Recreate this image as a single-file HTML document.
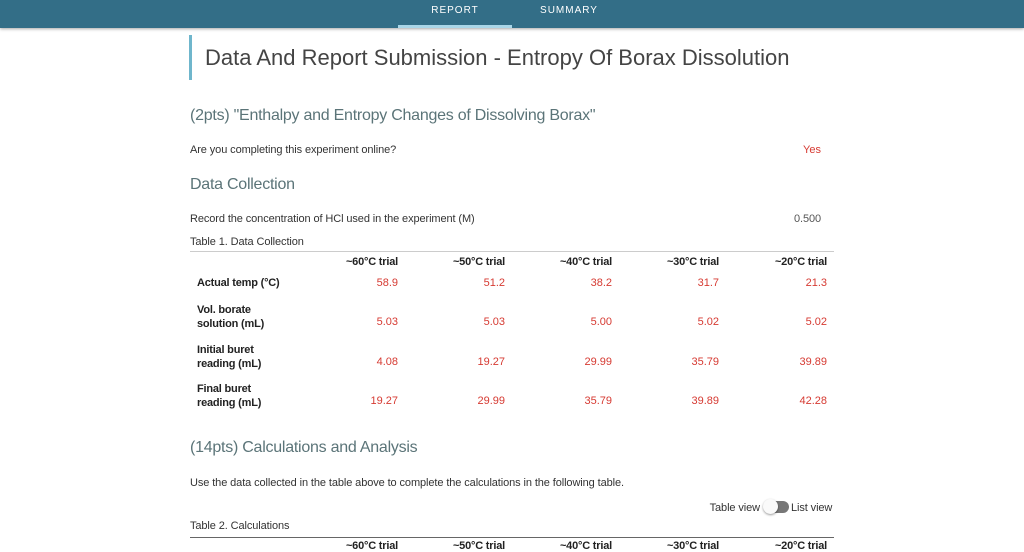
<!DOCTYPE html>
<html><head><meta charset="utf-8"><style>
body{margin:0;width:1024px;height:543px;overflow:hidden;background:#fff;font-family:"Liberation Sans",sans-serif;position:relative;}
.a{position:absolute;white-space:nowrap;line-height:1;}
.s{font-size:11px;color:#333;letter-spacing:-0.1px;}
.h{font-size:16px;color:#5b7478;letter-spacing:-0.25px;}
.r{color:#d63a32;font-size:11px;text-align:right;width:80px;}
.b{font-weight:bold;font-size:11px;color:#222;letter-spacing:-0.2px;}
.hd{font-weight:bold;font-size:11px;color:#222;text-align:right;width:90px;letter-spacing:-0.2px;}
</style></head><body>
<div style="position:absolute;left:0;top:0;width:1024px;height:28px;background:#336e87;box-shadow:0 1px 3px rgba(0,0,0,.35)"></div>
<div class="a" style="left:398px;top:6px;width:114px;text-align:center;color:#fff;font-size:10px;letter-spacing:1px">REPORT</div>
<div style="position:absolute;left:398px;top:25px;width:114px;height:3px;background:#a9d6e8"></div>
<div class="a" style="left:512px;top:6px;width:114px;text-align:center;color:#fff;font-size:10px;letter-spacing:1px">SUMMARY</div>

<div style="position:absolute;left:189px;top:35px;width:3px;height:45px;background:#6fb6cc"></div>
<div class="a" style="left:205px;top:47px;font-size:22px;color:#444;">Data And Report Submission - Entropy Of Borax Dissolution</div>

<div class="a h" style="left:190px;top:108px">(2pts) "Enthalpy and Entropy Changes of Dissolving Borax"</div>
<div class="a s" style="left:190px;top:145px">Are you completing this experiment online?</div>
<div class="a r" style="left:741px;top:145px">Yes</div>

<div class="a h" style="left:190px;top:177px">Data Collection</div>
<div class="a s" style="left:190px;top:214px">Record the concentration of HCl used in the experiment (M)</div>
<div class="a s" style="left:741px;top:214px;width:80px;text-align:right;color:#555">0.500</div>
<div class="a s" style="left:190px;top:237px">Table 1. Data Collection</div>
<div style="position:absolute;left:190px;top:251px;width:644px;height:1px;background:#ccc"></div>

<div class="a hd" style="left:308px;top:257px">~60°C trial</div>
<div class="a hd" style="left:415px;top:257px">~50°C trial</div>
<div class="a hd" style="left:522px;top:257px">~40°C trial</div>
<div class="a hd" style="left:629px;top:257px">~30°C trial</div>
<div class="a hd" style="left:737px;top:257px">~20°C trial</div>

<div class="a b" style="left:197px;top:278px">Actual temp (°C)</div>
<div class="a b" style="left:197px;top:303px;line-height:14px">Vol. borate<br>solution (mL)</div>
<div class="a b" style="left:197px;top:343px;line-height:14px">Initial buret<br>reading (mL)</div>
<div class="a b" style="left:197px;top:382px;line-height:14px">Final buret<br>reading (mL)</div>

<div class="a r" style="left:318px;top:278px">58.9</div>
<div class="a r" style="left:425px;top:278px">51.2</div>
<div class="a r" style="left:532px;top:278px">38.2</div>
<div class="a r" style="left:639px;top:278px">31.7</div>
<div class="a r" style="left:747px;top:278px">21.3</div>

<div class="a r" style="left:318px;top:317px">5.03</div>
<div class="a r" style="left:425px;top:317px">5.03</div>
<div class="a r" style="left:532px;top:317px">5.00</div>
<div class="a r" style="left:639px;top:317px">5.02</div>
<div class="a r" style="left:747px;top:317px">5.02</div>

<div class="a r" style="left:318px;top:357px">4.08</div>
<div class="a r" style="left:425px;top:357px">19.27</div>
<div class="a r" style="left:532px;top:357px">29.99</div>
<div class="a r" style="left:639px;top:357px">35.79</div>
<div class="a r" style="left:747px;top:357px">39.89</div>

<div class="a r" style="left:318px;top:396px">19.27</div>
<div class="a r" style="left:425px;top:396px">29.99</div>
<div class="a r" style="left:532px;top:396px">35.79</div>
<div class="a r" style="left:639px;top:396px">39.89</div>
<div class="a r" style="left:747px;top:396px">42.28</div>

<div class="a h" style="left:190px;top:440px">(14pts) Calculations and Analysis</div>
<div class="a s" style="left:190px;top:478px">Use the data collected in the table above to complete the calculations in the following table.</div>

<div class="a s" style="left:660px;top:503px;width:100px;text-align:right">Table view</div>
<div style="position:absolute;left:767px;top:501px;width:22px;height:12px;border-radius:6px;background:#777"></div>
<div style="position:absolute;left:763px;top:499px;width:15px;height:15px;border-radius:50%;background:#fafafa;box-shadow:0 1px 2px rgba(0,0,0,.4)"></div>
<div class="a s" style="left:791px;top:503px">List view</div>

<div class="a s" style="left:190px;top:521px">Table 2. Calculations</div>
<div style="position:absolute;left:190px;top:537px;width:644px;height:1px;background:#666"></div>
<div class="a hd" style="left:308px;top:541px">~60°C trial</div>
<div class="a hd" style="left:415px;top:541px">~50°C trial</div>
<div class="a hd" style="left:522px;top:541px">~40°C trial</div>
<div class="a hd" style="left:629px;top:541px">~30°C trial</div>
<div class="a hd" style="left:737px;top:541px">~20°C trial</div>
</body></html>
